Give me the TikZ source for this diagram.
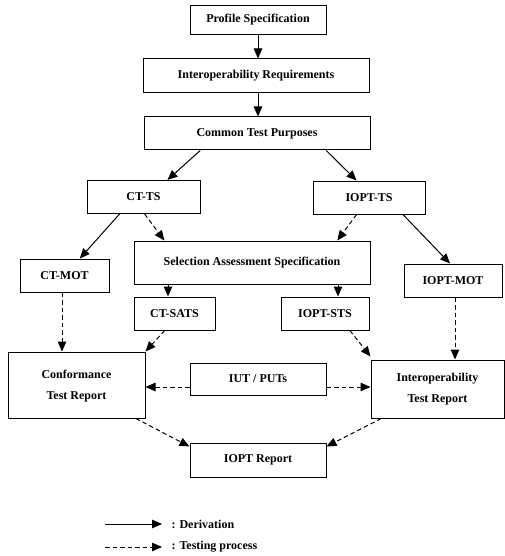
\documentclass[tikz,border=0pt]{standalone}
\usepackage{fontspec}
\setmainfont{Liberation Serif}
\usetikzlibrary{arrows.meta,calc}
\begin{document}
\begin{tikzpicture}[x=1pt,y=-1pt,
  box/.style={draw,line width=1pt,font=\bfseries\fontsize{12}{21}\selectfont,align=center,inner sep=0pt},
  der/.style={line width=1pt,-{Triangle[length=10pt,width=8.5pt]}},
  tst/.style={line width=1pt,dash pattern=on 4.5pt off 3pt,-{Triangle[length=10pt,width=8.5pt]}}]
\useasboundingbox (0,0) rectangle (504,556);
\node[box,minimum width=136pt,minimum height=29pt] (ps) at (258,20) {Profile Specification};
\node[box,minimum width=226pt,minimum height=34pt] (ir) at (256,76) {Interoperability Requirements};
\node[box,minimum width=226pt,minimum height=33pt] (ctp) at (257,133.5) {Common Test Purposes};
\node[box,minimum width=113pt,minimum height=33pt] (cts) at (143.5,197) {CT-TS};
\node[box,minimum width=112pt,minimum height=33pt] (its) at (369,197.5) {IOPT-TS};
\node[box,minimum width=236pt,minimum height=43pt] (sas) at (252,262.5) {Selection Assessment Specification};
\node[box,minimum width=89pt,minimum height=33pt] (cmot) at (64.5,275.5) {CT-MOT};
\node[box,minimum width=98pt,minimum height=33pt] (imot) at (453,280.5) {IOPT-MOT};
\node[box,minimum width=81pt,minimum height=33pt] (csats) at (174.5,313.5) {CT-SATS};
\node[box,minimum width=88pt,minimum height=33pt] (ists) at (325,313.5) {IOPT-STS};
\node[box,minimum width=137pt,minimum height=66pt] (ctr) at (76.5,385) {\raisebox{4pt}{\begin{tabular}{@{}c@{}}Conformance\\Test Report\end{tabular}}};
\node[box,minimum width=136pt,minimum height=32pt] (iut) at (258,379) {IUT / PUTs};
\node[box,minimum width=133pt,minimum height=58pt] (itr) at (437.5,389) {Interoperability\\Test Report};
\node[box,minimum width=136pt,minimum height=34pt] (rep) at (258,460) {IOPT Report};
% derivation
\draw[der] (ps.south) -- (ps.south |- ir.north);
\draw[der] (ps.south |- ir.south) -- (ps.south |- ctp.north);
\draw[der] ($(ctp.south west)!0.25!(ctp.south east)$) -- ($(cts.north west)!0.71!(cts.north east)$);
\draw[der] ($(ctp.south west)!0.805!(ctp.south east)$) -- ($(its.north west)!0.39!(its.north east)$);
\draw[der] ($(cts.south west)!0.29!(cts.south east)$) -- ($(cmot.north west)!0.67!(cmot.north east)$);
\draw[der] ($(its.south west)!0.8!(its.south east)$) -- ($(imot.north west)!0.47!(imot.north east)$);
% testing
\draw[tst] ($(cts.south west)!0.51!(cts.south east)$) -- ($(sas.north west)!0.13!(sas.north east)$);
\draw[tst] ($(its.south west)!0.39!(its.south east)$) -- ($(sas.north west)!0.86!(sas.north east)$);
\draw[tst] (sas.south -| 168,0) -- (csats.north -| 168,0);
\draw[tst] (sas.south -| 338,0) -- (ists.north -| 338,0);
\draw[tst] (cmot.south -| 62,0) -- (ctr.north -| 62,0);
\draw[tst] (imot.south -| 455,0) -- (itr.north -| 455,0);
\draw[tst] ($(csats.south west)!0.38!(csats.south east)$) -- (ctr.north east);
\draw[tst] ($(ists.south west)!0.78!(ists.south east)$) -- ($(itr.north west)+(0,-3)$);
\draw[tst] ($(iut.west)+(0,8)$) -- ($(ctr.east)+(0,2)$);
\draw[tst] ($(iut.east)+(0,8)$) -- ($(itr.west)+(0,-2)$);
\draw[tst] ($(ctr.south west)!0.93!(ctr.south east)$) -- ($(rep.north west)+(0,4)$);
\draw[tst] ($(itr.south west)!0.08!(itr.south east)$) -- ($(rep.north east)+(0,4)$);
% legend
\coordinate (la) at (105,524); \coordinate (lb) at (162,524);
\coordinate (lc) at (105,547); \coordinate (ld) at (162,547);
\draw[der] (la) -- (lb);
\draw[tst] (lc) -- (ld);
\node[font=\bfseries\fontsize{12}{14}\selectfont,anchor=west] (t1) at (168,524) {: Derivation};
\node[font=\bfseries\fontsize{12}{14}\selectfont,anchor=west] (t2) at (168,547) {: Testing process};
\end{tikzpicture}
\end{document}
